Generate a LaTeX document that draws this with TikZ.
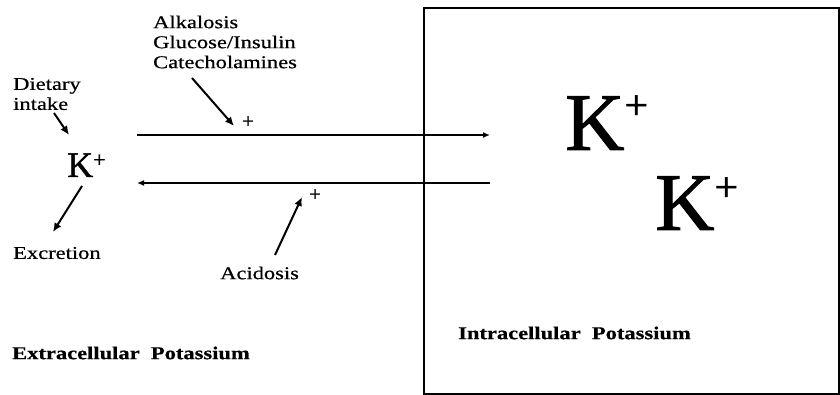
\documentclass[tikz,border=0pt]{standalone}
\usepackage{fontspec}
\setmainfont{Liberation Serif}
\newfontfamily\widefont[FakeStretch=1.25,FakeBold=0.6]{Liberation Serif}
\newfontfamily\ionfont[FakeBold=1.2]{Liberation Serif}
\usepackage{tikz}
\usetikzlibrary{arrows.meta}
% K with a raised plus: #1 plus size, #2 raise
\newcommand{\kion}[2]{K\raisebox{#2}{\fontsize{#1}{#1}\selectfont +}}

\begin{document}
\begin{tikzpicture}[
  x=1pt, y=-1pt,
  >={Latex[length=7pt,width=6pt]},
  every node/.style={inner sep=0pt},
  lbl/.style={font=\fontsize{18}{20}\selectfont\widefont, align=left},
  head/.style={font=\fontsize{18}{20}\selectfont\widefont\bfseries},
  sign/.style={font=\fontsize{20}{20}\selectfont\ionfont},
  flux/.style={->, line width=1.5pt},
  push/.style={-{Latex[length=9pt,width=8pt]}, line width=2pt},
]
\useasboundingbox (0,0) rectangle (840,395);

% intracellular compartment
\node[draw, line width=2.4pt, minimum width=415pt, minimum height=386pt,
      anchor=north west] (cell) at (423,7) {};
\node[font=\fontsize{82}{82}\selectfont\ionfont, anchor=base west] (kin1) at (565,150) {\kion{42}{31pt}};
\node[font=\fontsize{82}{82}\selectfont\ionfont, anchor=base west] (kin2) at (655,230) {\kion{42}{29pt}};
\node[head, anchor=west] (intra) at (458,333) {Intracellular\ \ Potassium};

% extracellular side
\node[font=\fontsize{36}{36}\selectfont\ionfont, anchor=base west] (kout) at (67,177) {\kion{22}{10pt}};
\node[lbl, anchor=west] (diet) at (13,94) {Dietary\\intake};
\node[lbl, anchor=west] (excr) at (13,253) {Excretion};
\node[lbl, anchor=west] (alk) at (153,42) {Alkalosis\\Glucose/Insulin\\Catecholamines};
\node[lbl, anchor=west] (acid) at (220,273) {Acidosis};
\node[head, anchor=west] (extra) at (12,353) {Extracellular\ \ Potassium};
\node[sign] (alkp) at (248,122) {+};
\node[sign] (acidp) at (315,195) {+};

\coordinate (dietS) at (54,113);
\coordinate (dietT) at (69,135);
\coordinate (excrS) at (82,186);
\coordinate (excrT) at (53,232);
\coordinate (alkS) at (192,78);
\coordinate (alkT) at (234,126);
\coordinate (acidS) at (275,255);
\coordinate (acidT) at (302,197);
\coordinate (inA) at (137,135);
\coordinate (inB) at (490,135);
\coordinate (outA) at (490,183);
\coordinate (outB) at (137,183);

\draw[flux] (inA) -- (inB);
\draw[flux] (outA) -- (outB);
\draw[push] (dietS) -- (dietT);
\draw[push] (excrS) -- (excrT);
\draw[push] (alkS) -- (alkT);
\draw[push] (acidS) -- (acidT);
\end{tikzpicture}
\end{document}
